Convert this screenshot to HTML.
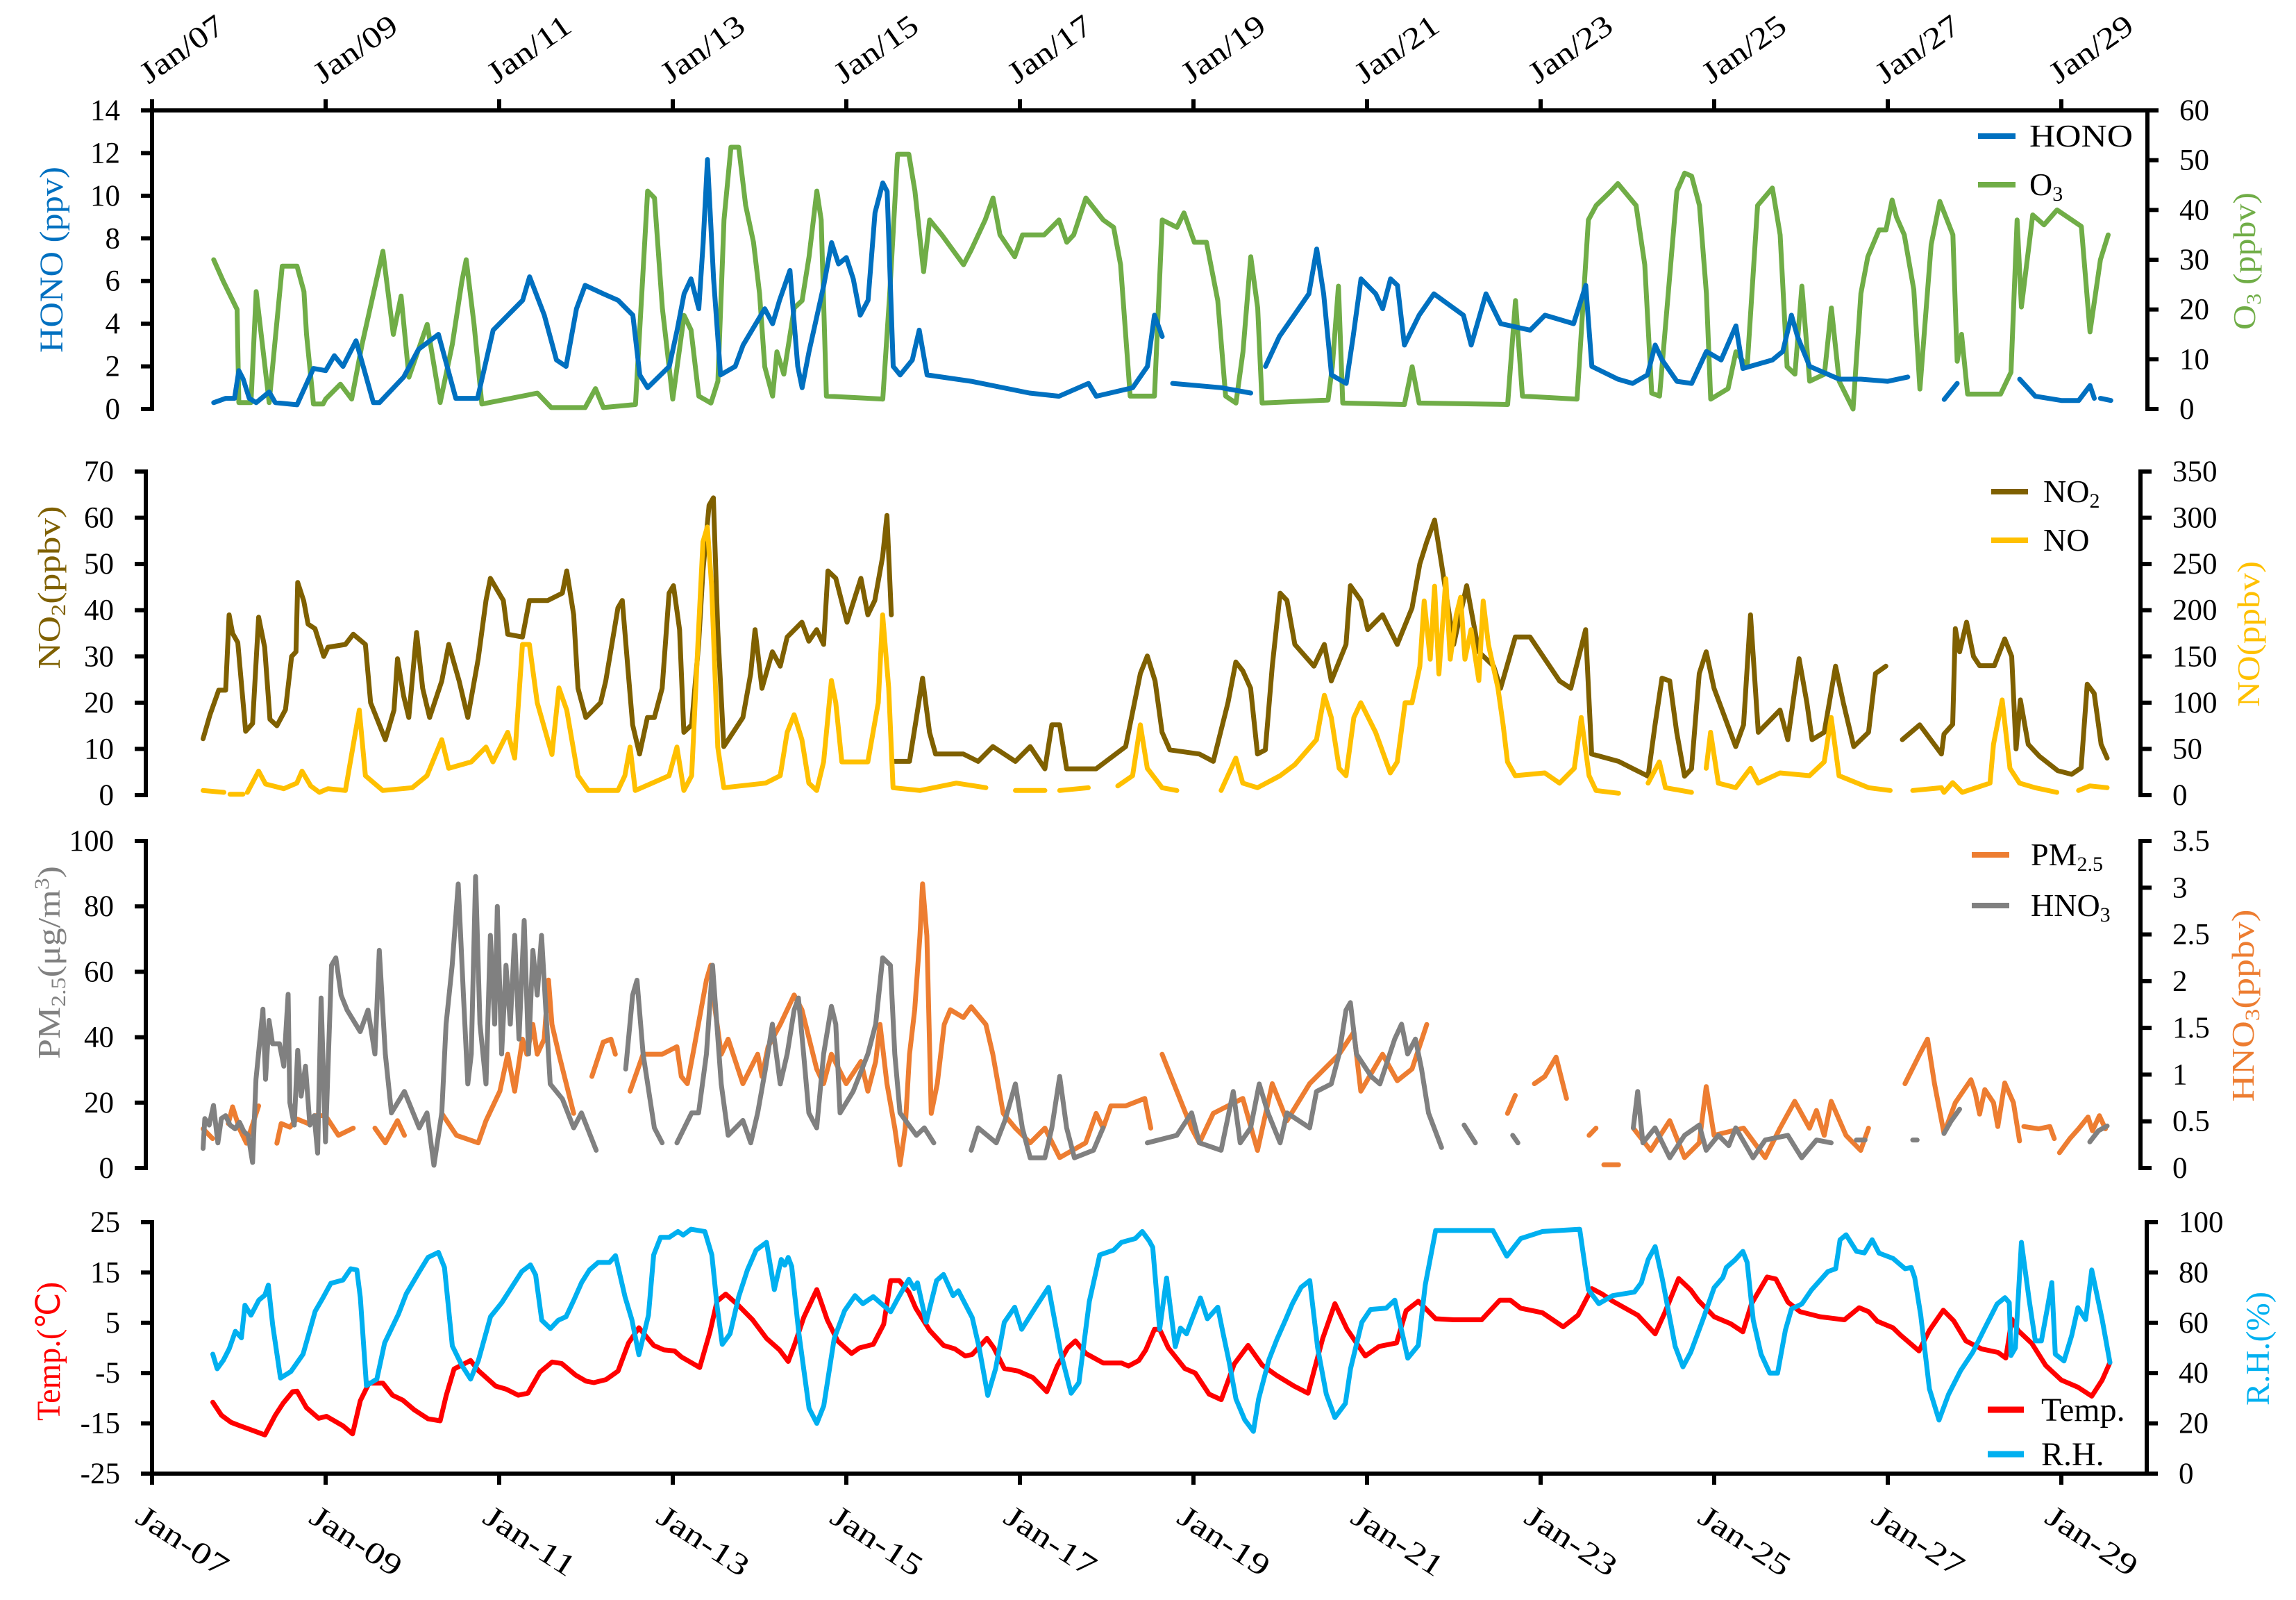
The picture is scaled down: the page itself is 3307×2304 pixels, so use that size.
<!DOCTYPE html>
<html><head><meta charset="utf-8"><title>HONO, O3, NOx, PM2.5, HNO3 and meteorology time series</title>
<style>
html,body{margin:0;padding:0;background:#fff;}
svg{display:block;font-family:"Liberation Serif",serif;}
</style></head>
<body>
<svg id="chart" xmlns="http://www.w3.org/2000/svg" width="3307" height="2304" viewBox="0 0 3307 2304">
<rect x="0" y="0" width="3307" height="2304" fill="#fff"/>
<g id="axes"></g>
<g id="series"></g>
<g id="labels"></g>
</svg>
<script>
// ---------- data (time in days of January, values in axis units) ----------
const dayTicks = [7,9,11,13,15,17,19,21,23,25,27,29];
const honoT = [7.71,7.85,7.95,8.0,8.05,8.12,8.2,8.35,8.42,8.67,8.86,9.0,9.1,9.2,9.35,9.55,9.62,9.9,10.07,10.3,10.5,10.75,10.93,11.1,11.27,11.35,11.52,11.66,11.77,11.89,11.99,12.2,12.37,12.54,12.62,12.71,12.96,13.05,13.13,13.21,13.3,13.35,13.4,13.47,13.55,13.72,13.81,14.06,14.15,14.23,14.35,14.44,14.49,14.57,14.74,14.83,14.91,15.0,15.08,15.16,15.25,15.33,15.42,15.47,15.54,15.62,15.76,15.84,15.93,16.44,17.11,17.45,17.79,17.88,18.3,18.47,18.55,18.64,null,18.76,19.32,19.66,null,19.83,19.99,20.16,20.33,20.42,20.5,20.59,20.76,20.84,20.93,21.1,21.18,21.27,21.35,21.43,21.6,21.77,22.11,22.2,22.37,22.54,22.88,23.05,23.38,23.52,23.59,23.89,24.06,24.23,24.32,24.4,24.57,24.74,24.91,25.08,25.25,25.33,25.67,25.79,25.89,25.96,26.1,26.44,26.69,27.0,27.23,null,27.65,27.8,null,28.52,28.7,29.0,29.2,29.33,29.38,null,29.45,29.57];
const honoV = [.3,.5,.5,1.8,1.4,.5,.3,.8,.3,.2,1.9,1.8,2.5,2.0,3.2,.3,.3,1.5,2.8,3.5,.5,.5,3.7,4.4,5.1,6.2,4.4,2.3,2.0,4.7,5.8,5.4,5.1,4.4,1.6,1.0,2.0,3.7,5.4,6.1,4.7,7.8,11.7,6.1,1.6,2.0,3.0,4.7,4.0,5.1,6.5,2.0,1.0,2.7,5.8,7.8,6.8,7.1,6.1,4.4,5.1,9.2,10.6,10.2,2.0,1.6,2.3,3.7,1.6,1.3,.75,.6,1.2,.6,1.0,2.0,4.4,3.4,null,1.2,1.0,.75,null,2.0,3.4,4.4,5.4,7.5,5.4,1.6,1.2,3.4,6.1,5.4,4.7,6.1,5.8,3.0,4.4,5.4,4.4,3.0,5.4,4.0,3.7,4.4,4.0,5.8,2.0,1.4,1.2,1.6,3.0,2.3,1.3,1.2,2.7,2.3,3.9,1.9,2.3,2.7,4.4,3.4,2.0,1.4,1.4,1.3,1.5,null,.45,1.2,null,1.4,.6,.4,.4,1.1,.5,null,.5,.4];
const o3T = [7.71,7.82,7.98,8.0,8.14,8.2,8.35,8.5,8.67,8.75,8.78,8.86,8.97,9.0,9.17,9.3,9.42,9.66,9.78,9.87,9.96,10.17,10.32,10.46,10.57,10.62,10.71,10.8,11.44,11.6,11.99,12.11,12.2,12.57,12.71,12.79,12.88,13.0,13.13,13.21,13.3,13.44,13.52,13.59,13.67,13.76,13.84,13.93,14.0,14.06,14.15,14.2,14.28,14.4,14.49,14.57,14.66,14.71,14.77,15.42,15.5,15.59,15.72,15.79,15.89,15.96,16.1,16.35,16.44,16.6,16.69,16.77,16.94,17.03,17.28,17.45,17.54,17.62,17.76,17.96,18.08,18.16,18.27,18.55,18.64,18.81,18.89,19.01,19.15,19.28,19.37,19.49,19.57,19.66,19.74,19.79,20.55,20.6,20.67,20.72,21.43,21.52,21.6,22.62,22.71,22.79,23.42,23.55,23.64,23.81,23.89,24.1,24.2,24.28,24.37,24.57,24.66,24.74,24.83,24.91,24.96,25.16,25.25,25.38,25.5,25.67,25.76,25.84,25.93,26.01,26.1,26.27,26.35,26.44,26.6,26.69,26.77,26.9,26.98,27.05,27.1,27.19,27.3,27.37,27.5,27.6,27.75,27.8,27.85,27.92,28.3,28.42,28.49,28.54,28.67,28.8,28.95,29.23,29.33,29.45,29.54];
const o3V = [30,25.7,20,1.3,1.3,23.6,1.3,28.7,28.7,23.6,15,1,1,2,5,2,13,31.7,15,22.7,6.4,17,1.3,13,25.7,30,17,1,3.2,0.3,0.3,4.1,0.3,0.9,43.8,42.4,20.3,2,18.8,15.9,2.6,1.2,5.6,38,52.6,52.6,40.9,33.5,23.2,8.5,2.6,11.5,7,20.3,21.8,30.6,43.8,38,2.6,2,23.2,51.2,51.2,43.8,27.6,38,35,29,32,38,42.4,35,30.6,35,35,38,33.5,35,42.4,38,36.5,29,2.6,2.6,38,36.5,39.4,33.5,33.5,21.8,2.6,1.2,11.5,30.6,20.3,1.2,1.8,8.5,24.7,1.2,0.9,8.5,1.2,0.9,21.8,2.6,2,38,40.9,43.8,45.3,40.9,29,3.2,2.6,43.8,47.4,46.8,40.9,23.2,2,4.1,11.5,8.5,40.9,44.4,35,8.5,7,24.7,5.6,7,20.3,5.6,0,23.2,30.6,36,36,42,38.6,35,24,4,33,41.7,35,9.6,15,3,3,7.4,38,20.5,39,37,40,36.7,15.5,30,35];
const no2T = [7.66,7.74,7.84,7.92,7.96,8.0,8.06,8.15,8.23,8.3,8.37,8.43,8.51,8.61,8.68,8.73,8.75,8.82,8.87,8.95,9.05,9.1,9.3,9.39,9.53,9.59,9.76,9.86,9.9,9.97,10.03,10.12,10.19,10.27,10.41,10.49,10.61,10.71,10.83,10.92,10.97,11.12,11.17,11.34,11.42,11.63,11.8,11.85,11.93,11.98,12.07,12.24,12.3,12.44,12.49,12.56,12.61,12.69,12.78,12.86,12.95,13.03,13.08,13.15,13.2,13.29,13.37,13.42,13.49,13.54,13.59,13.66,13.88,13.97,14.02,14.1,14.22,14.31,14.39,14.56,14.64,14.73,14.81,14.86,14.95,15.08,15.24,15.32,15.4,15.49,15.54,15.59,null,15.61,15.8,15.88,15.95,16.03,16.1,16.42,16.59,16.76,17.02,17.19,17.36,17.44,17.53,17.61,17.95,18.29,18.46,18.54,18.63,18.71,18.8,19.14,19.3,19.47,19.56,19.64,19.73,19.81,19.9,19.98,20.07,20.15,20.24,20.46,20.58,20.66,20.83,20.88,21.0,21.08,21.25,21.42,21.59,21.68,21.76,21.85,21.93,22.02,22.07,22.22,22.36,22.53,22.61,22.78,22.95,23.29,23.42,23.59,23.66,23.97,24.14,24.31,24.39,24.47,24.56,24.64,24.73,24.81,24.9,24.98,25.07,25.32,25.41,25.49,25.58,25.83,25.92,26.05,26.14,26.2,26.34,26.47,26.56,26.68,26.85,26.93,27.05,null,27.24,27.44,27.69,27.72,27.82,27.85,27.9,27.98,28.06,28.13,28.3,28.42,28.5,28.55,28.6,28.69,28.82,29.03,29.19,29.3,29.37,29.45,29.53,29.6];
const no2V = [12.2,17.4,22.7,22.7,39,35,33,13.8,15.5,38.5,32,16.4,15,18.5,30,31,46,42,37,36,30,32,32.6,34.8,32.6,20,12,18.4,29.5,21.5,16.8,35.2,23.1,16.8,24.7,32.6,24.7,16.8,29.5,42.1,46.9,42.1,34.8,34.2,42.1,42.1,43.7,48.5,39,23.1,16.8,20,24.7,40.5,42.1,26.3,15.2,8.9,16.8,16.8,23.1,43.7,45.3,35.8,13.6,15.2,32.6,48.5,62.7,64.3,35.8,10.5,16.8,26.3,35.8,23.1,31,27.9,34.2,37.4,33.3,35.8,32.6,48.5,46.9,37.4,46.9,39,42.1,51.6,60.5,39,null,7.3,7.3,16.8,25.3,13.6,8.9,8.9,7.3,10.5,7.3,10.5,5.7,15.2,15.2,5.7,5.7,10.5,26.3,30.1,24.7,13.6,9.8,8.9,7.3,20,28.8,26.9,23.1,8.9,9.8,27.9,43.7,42.1,32.6,27.9,32.6,24.7,32.6,45.3,42.1,35.8,39,32.6,40.5,50,54.8,59.5,50,39,32.6,45.3,31,27.9,23.1,34.2,34.2,24.7,23.1,35.8,8.9,7.3,5.7,4.1,15.2,25.3,24.7,13.6,4.1,5.7,26.3,31,23.1,10.5,15.2,39,13.6,18.4,12,29.5,20,12,13.6,27.9,20,10.5,13.6,26.3,27.9,null,12,15.2,8.9,13.2,15.3,36,31,37.4,30,28,28,33.8,30,10,20.6,11,8.4,5.3,4.5,5.9,24,22,11,8];
const noT = [7.66,7.9,null,7.97,8.12,null,8.17,8.3,8.38,8.59,8.74,8.8,8.9,9.0,9.1,9.3,9.46,9.53,9.73,10.07,10.24,10.41,10.49,10.75,10.92,11.0,11.17,11.25,11.34,11.42,11.51,11.68,11.76,11.85,11.98,12.1,12.44,12.52,12.58,12.64,13.03,13.12,13.2,13.29,13.37,13.42,13.47,13.52,13.59,13.66,14.14,14.31,14.39,14.47,14.56,14.64,14.73,14.81,14.9,14.95,15.02,15.32,15.44,15.49,15.56,15.61,15.92,16.34,16.68,null,17.02,17.36,null,17.53,17.86,null,18.2,18.37,18.46,18.54,18.71,18.88,null,19.39,19.56,19.64,19.81,20.07,20.24,20.49,20.58,20.66,20.75,20.83,20.92,21.0,21.17,21.34,21.42,21.51,21.59,21.68,21.73,21.8,21.85,21.9,21.98,22.03,22.1,22.15,22.2,22.27,22.36,22.41,22.47,22.58,22.64,22.69,22.78,23.12,23.29,23.46,23.54,23.63,23.71,23.97,null,24.31,24.44,24.51,24.81,null,24.98,25.03,25.12,25.32,25.49,25.58,25.83,26.17,26.34,26.42,26.51,26.85,27.1,null,27.36,27.69,27.72,27.82,27.93,28.25,28.29,28.39,28.48,28.59,28.77,29.02,null,29.27,29.4,29.6];
const noV = [5,3,null,1,1,null,3,26,12,7,13,26,10,3,7,5,92,21,5,8,21,60,29,36,52,36,68,40,163,163,100,44,116,92,21,5,5,21,52,5,21,52,5,21,179,274,290,226,52,8,13,21,68,87,60,13,5,36,124,100,36,36,100,195,116,8,5,13,8,null,5,5,null,5,8,null,10,21,76,29,8,5,null,5,40,13,8,21,33,60,108,84,29,21,84,100,68,24,36,100,100,139,210,147,226,131,234,147,195,214,147,179,124,210,163,116,76,36,21,24,13,29,84,21,5,2,null,13,36,8,3,null,29,68,13,8,29,13,24,21,36,84,21,8,5,null,5,8,3,13.5,3,13,55,103,29,13,8,3,null,5,10,8];
const pmT = [7.66,7.77,null,7.95,8.0,8.08,8.16,8.3,null,8.51,8.56,8.66,8.74,8.87,8.94,9.07,9.22,9.39,null,9.64,9.76,9.9,9.98,null,10.41,10.58,10.83,10.92,11.08,11.17,11.25,11.34,11.39,11.46,11.51,11.59,11.64,11.68,11.76,11.93,null,12.14,12.27,12.36,12.41,null,12.58,12.73,12.95,13.12,13.17,13.24,13.32,13.46,13.51,13.56,13.63,13.71,13.88,14.05,14.1,14.17,14.31,14.47,14.56,14.73,14.81,14.9,15.07,15.24,15.32,15.41,15.46,15.54,15.63,15.69,15.75,15.8,15.86,15.92,15.95,16.0,16.05,16.12,16.2,16.27,16.42,16.51,16.68,16.76,16.88,17.02,17.19,17.36,17.53,17.83,17.95,18.03,18.12,18.29,18.51,18.58,null,18.71,18.88,19.05,19.14,19.3,19.47,19.64,19.81,19.98,20.15,20.41,20.58,20.75,20.92,21.0,21.25,21.42,21.59,21.76,null,22.69,22.78,null,23.0,23.12,23.25,23.37,null,23.63,23.71,null,23.8,23.97,null,24.14,24.34,24.56,24.73,24.9,24.98,25.07,25.41,25.66,25.83,26.0,26.17,26.25,26.34,26.42,26.59,26.76,26.85,null,27.27,27.44,27.53,27.61,27.72,27.85,28.03,28.08,28.13,28.19,28.29,28.34,28.42,28.52,28.59,null,28.64,28.81,28.94,28.99,null,29.05,29.17,29.27,29.38,29.43,29.51,29.58];
const pmV = [12,9,null,13.6,18.7,12,7.6,19,null,7.6,13.6,12.5,15,13.6,16,16,10,12.2,null,12.2,7.7,14.5,10,null,16.7,10,7.7,14.5,23.5,34.8,23.5,39.4,34.8,43.9,34.8,39.4,57.5,43.9,34.8,16.7,null,28,38.5,39.4,34.8,null,23.5,34.8,34.8,37.1,28,25.8,37.1,57.5,62,48.4,34.8,39.4,25.8,34.8,28,37.1,43.9,52.9,48.4,30.3,25.8,34.8,25.8,32.6,23.5,32.6,43.9,25.8,12.2,1,12.2,34.8,48.4,71,86.9,71,16.7,25.8,43.9,48.4,46,49.3,43.9,34.8,16.7,12.2,7.7,12.2,3.2,7.7,16.7,12.2,19,19,21.3,12.2,null,34.8,23.5,12.2,7.7,16.7,19,21.3,5.4,25.8,14.5,25.8,30.3,34.8,41.6,23.5,34.8,26.7,30.3,43.9,null,16.7,22.2,null,25.8,28,33.9,21.3,null,10,12.2,null,1,1,null,12.2,5.4,14.5,3.2,7.7,24.9,10,12.2,3.2,12.2,20.4,12.2,17.6,10,20.4,10,5.4,12.2,null,25.8,34.8,39.4,25.8,10.6,20,27,23,16.5,24,20,12.7,26,20,8.3,null,12.7,12,12.7,9,null,4.7,9,12,15.6,11.4,16,12];
const hno3T = [7.66,7.68,7.73,7.78,7.83,7.87,7.92,7.97,8.03,8.08,8.13,8.18,8.23,8.27,8.35,8.38,8.42,8.46,8.54,8.59,8.64,8.66,8.71,8.75,8.79,8.84,8.89,8.94,8.98,9.02,9.07,9.14,9.19,9.25,9.32,9.47,9.56,9.64,9.69,9.76,9.83,9.98,10.15,10.24,10.32,10.41,10.46,10.53,10.6,10.66,10.71,10.75,10.8,10.85,10.92,10.97,11.02,11.05,11.1,11.15,11.2,11.25,11.3,11.36,11.41,11.46,11.51,11.56,11.61,11.66,11.8,11.93,12.02,12.19,null,12.53,12.61,12.66,12.73,12.86,12.95,null,13.12,13.29,13.37,13.46,13.53,13.58,13.63,13.71,13.88,13.97,14.05,14.14,14.22,14.31,14.39,14.47,14.52,14.58,14.64,14.73,14.81,14.9,14.95,15.0,15.15,15.32,15.41,15.49,15.58,15.63,15.69,15.88,15.97,16.08,null,16.51,16.59,16.8,16.9,17.02,17.1,17.19,17.36,17.44,17.53,17.61,17.7,17.92,18.03,null,18.54,18.88,19.05,19.14,19.39,19.53,19.61,19.73,19.83,19.93,20.07,20.15,20.41,20.49,20.66,20.75,20.83,20.88,20.95,21.12,21.22,21.39,21.47,21.54,21.63,21.7,21.78,21.93,null,22.19,22.32,null,22.75,22.81,null,24.14,24.19,24.25,24.39,24.56,24.73,24.9,24.98,25.12,25.24,25.32,25.52,25.66,25.92,26.08,26.25,26.42,null,26.71,26.81,null,27.36,27.41,null,27.72,27.8,27.9,null,29.4,29.5,29.6];
const hno3V = [.21,.53,.46,.67,.27,.53,.56,.46,.42,.49,.39,.35,.06,.95,1.7,.95,1.58,1.33,1.33,1.09,1.86,.7,.46,1.26,.77,1.09,.46,.56,.16,1.82,.28,2.17,2.25,1.85,1.69,1.46,1.69,1.22,2.33,1.22,.59,.82,.43,.59,.03,.59,1.54,2.17,3.04,1.85,.9,1.22,3.12,1.54,.9,2.49,1.54,2.8,1.22,2.17,1.54,2.49,1.38,2.65,1.22,2.33,1.85,2.49,1.69,.9,.74,.43,.59,.19,null,1.06,1.85,2.01,1.22,.43,.27,null,.27,.59,.59,1.22,2.17,1.54,.9,.35,.51,.27,.59,1.06,1.54,.9,1.22,1.69,1.82,1.22,.59,.43,1.22,1.73,1.54,.59,.82,1.22,1.54,2.25,2.17,1.22,.59,.35,.43,.27,null,.19,.43,.27,.51,.9,.43,.11,.11,.43,.98,.43,.11,.19,.43,null,.27,.35,.59,.27,.19,.82,.27,.43,.9,.59,.27,.59,.43,.82,.9,1.22,1.69,1.77,1.22,.98,.9,1.38,1.54,1.22,1.38,1.06,.59,.22,null,.46,.27,null,.35,.27,null,.43,.82,.27,.43,.11,.35,.46,.19,.35,.24,.43,.11,.3,.35,.11,.3,.27,null,.3,.3,null,.3,.3,null,.37,.5,.63,null,.28,.4,.45];
const tempT = [7.70,7.80,7.91,8.0,8.19,8.30,8.42,8.51,8.62,8.67,8.78,8.92,9.01,9.20,9.31,9.40,9.50,9.66,9.77,9.89,10.02,10.18,10.32,10.39,10.48,10.67,10.76,10.96,11.08,11.22,11.33,11.47,11.61,11.72,11.88,12.0,12.09,12.23,12.37,12.49,12.61,12.78,12.9,13.02,13.1,13.31,13.43,13.51,13.61,13.76,13.92,14.08,14.23,14.33,14.41,14.51,14.66,14.78,14.9,15.06,15.15,15.31,15.43,15.51,15.61,15.72,15.8,15.96,16.12,16.25,16.37,16.45,16.62,16.7,16.82,16.98,17.15,17.31,17.43,17.55,17.64,17.76,17.96,18.17,18.25,18.37,18.45,18.55,18.61,18.71,18.9,19.02,19.18,19.32,19.47,19.63,19.79,19.96,20.16,20.32,20.49,20.63,20.77,20.98,21.14,21.34,21.45,21.59,21.79,22.0,22.32,22.53,22.65,22.77,23.02,23.26,23.43,23.59,23.71,23.83,24.12,24.32,24.43,24.59,24.73,24.82,25.0,25.19,25.33,25.43,25.61,25.71,25.85,25.99,26.22,26.36,26.5,26.67,26.78,26.88,27.06,27.15,27.36,27.48,27.64,27.76,27.9,28.08,28.27,28.36,28.43,28.5,28.66,28.82,29.0,29.19,29.35,29.47,29.56];
const tempV = [-10.8,-13.4,-14.8,-15.4,-16.6,-17.3,-13.4,-11,-8.7,-8.6,-11.9,-14,-13.6,-15.5,-17.1,-10.5,-7,-7,-9.4,-10.4,-12.3,-14.1,-14.5,-9.4,-4.2,-2.5,-4.5,-7.6,-8.2,-9.4,-9,-4.8,-2.8,-3.1,-5.4,-6.6,-6.9,-6.3,-4.6,1,4,0.5,-0.4,-0.6,-1.8,-3.9,3.3,9.3,10.7,8.4,5.6,1.9,-0.4,-2.7,1,6.1,11.6,5.6,1.4,-1.1,0,0.7,4.7,13.4,13.4,11.1,7.9,3.5,0.5,-0.2,-1.6,-1.3,1.9,0,-4.1,-4.6,-5.9,-8.7,-3.6,0,1.4,-1.1,-3,-3,-3.6,-2.5,-0.4,3.7,3.7,0,-4.1,-5,-9.2,-10.3,-3.2,0.5,-3.4,-5.5,-7.6,-9,1.9,8.8,3.7,-1.6,0.3,1,7.4,9.3,5.8,5.6,5.6,9.5,9.5,7.9,7,4.2,6.5,11.8,10.7,9.3,6.5,2.8,7,13.8,11.5,9.4,6.2,4.8,3.2,8.8,14.1,13.7,9.1,7.2,6.2,5.9,5.6,8,7.2,5.3,4,2.5,-0.6,3.5,7.5,5.4,1.4,-0.2,-0.9,-2,5.7,3.5,0.9,-3.5,-6.4,-7.8,-9.6,-6.4,-2.9];
const rhT = [7.70,7.75,7.82,7.89,7.96,8.03,8.07,8.14,8.23,8.30,8.34,8.39,8.48,8.60,8.74,8.88,8.97,9.06,9.20,9.29,9.36,9.40,9.47,9.59,9.68,9.84,9.93,10.07,10.18,10.30,10.37,10.46,10.57,10.67,10.76,10.90,11.03,11.26,11.36,11.42,11.49,11.59,11.68,11.77,11.86,11.95,12.04,12.14,12.27,12.34,12.45,12.53,12.61,12.72,12.78,12.86,12.96,13.06,13.12,13.21,13.37,13.45,13.51,13.57,13.66,13.76,13.86,13.96,14.08,14.17,14.25,14.29,14.33,14.37,14.45,14.57,14.66,14.74,14.86,14.98,15.1,15.19,15.31,15.51,15.59,15.72,15.78,15.82,15.92,16.04,16.12,16.23,16.29,16.45,16.53,16.63,16.72,16.82,16.94,17.02,17.19,17.33,17.47,17.59,17.68,17.8,17.92,18.08,18.17,18.33,18.41,18.49,18.53,18.61,18.69,18.79,18.85,18.92,18.98,19.08,19.16,19.28,19.34,19.41,19.49,19.59,19.69,19.75,19.87,19.96,20.06,20.14,20.24,20.34,20.43,20.53,20.63,20.75,20.81,20.94,21.04,21.22,21.32,21.47,21.59,21.67,21.79,22.45,22.61,22.77,23.02,23.45,23.55,23.67,23.83,24.08,24.16,24.24,24.32,24.4,24.55,24.64,24.73,24.87,25.0,25.1,25.14,25.24,25.33,25.38,25.45,25.54,25.64,25.73,25.82,25.89,26.01,26.12,26.31,26.4,26.45,26.52,26.64,26.73,26.82,26.9,27.06,27.2,27.27,27.31,27.38,27.48,27.59,27.7,27.84,27.98,28.12,28.26,28.35,28.4,28.42,28.47,28.54,28.63,28.7,28.77,28.84,28.89,28.93,29.03,29.12,29.19,29.28,29.35,29.47,29.56];
const rhV = [47.5,41.7,45,49.7,56.6,54,67,63,69,71,75,59,38,40.6,47.5,64.6,70,75.7,77,81.5,81,70,35,37.6,52,63.5,71.6,79.8,86,88,82,50.8,43,37.6,45,62.4,68,80.4,83,79,61,57.7,61,62.4,69,76,81,84,84,86.7,70.4,61.1,47.3,63,87,94,94,96.3,94.9,97.2,96.3,87,66.7,51.4,55.6,70.4,81,88.9,92,73.2,85.2,82.9,86,82.4,56.5,26,20,27,53.7,64.8,70.8,67.6,70.4,64.4,69.5,77.3,73.6,75.9,60.2,76.8,79.2,70.8,72.7,62.1,50.1,31.1,41.7,60.2,66.2,57.4,66.7,74.1,48.2,32,36.2,68.5,87,88.9,92,93.5,96.3,92.6,90,57.4,77.8,50.5,57.9,55.6,61.1,69.9,61.6,66.2,56,44.5,29.7,21.4,16.8,29.7,45.4,53.3,61.1,67.6,74.1,76.8,50.1,31.6,22.3,27.9,41.7,60.2,65.3,65.8,69,45.9,51,75,96.7,96.7,86.5,93.5,96.3,97.2,73.2,67.6,70.8,72.2,75.9,85.2,90.3,77.8,50.6,42.5,48.3,61.3,74,78,82,85,88.4,84,61,47.5,40,40,57,65.5,67.5,73,80.4,81.5,93,95,88.4,87.8,93,87.7,85.6,81.5,82,78,63,33.7,21.3,31.5,41,48.3,58,67.5,70,68,47,50,92,68.8,52.8,52.8,66,76,47.5,44.8,55,66,61.3,81,61.3,44.2];
const hono_ticks = [0,2,4,6,8,10,12,14];
const o3_ticks = [0,10,20,30,40,50,60];
const no2_ticks = [0,10,20,30,40,50,60,70];
const no_ticks = [0,50,100,150,200,250,300,350];
const pm_ticks = [0,20,40,60,80,100];
const hno3_ticks = ["0","0.5","1","1.5","2","2.5","3","3.5"];
const temp_ticks = [-25,-15,-5,5,15,25];
const rh_ticks = [0,20,40,60,80,100];

// ---------- layout ----------
const NS = "http://www.w3.org/2000/svg";
const DAY = 125;
const P = [
  {left:219, right:3093, top:159, bottom:589},
  {left:210, right:3083, top:679, bottom:1145},
  {left:210, right:3083, top:1211, bottom:1682},
  {left:219, right:3092, top:1760, bottom:2122}
];
const axesG = document.getElementById('axes');
const seriesG = document.getElementById('series');
const labelsG = document.getElementById('labels');
function mk(tag, attrs, parent){ const e=document.createElementNS(NS,tag); for(const k in attrs) e.setAttribute(k,attrs[k]); parent.appendChild(e); return e; }
function xOf(p,d){ return p.left + (d-7)*DAY; }
function yOf(p,v,min,max){ return p.bottom - (v-min)/(max-min)*(p.bottom-p.top); }

function drawSeries(p, ts, vs, min, max, color, name){
  let d=""; let pen=false;
  const n=Math.min(ts.length, vs.length);
  for(let i=0;i<n;i++){
    if(ts[i]===null || vs[i]===null){ pen=false; continue; }
    const x=xOf(p,ts[i]).toFixed(1), y=yOf(p,vs[i],min,max).toFixed(1);
    d += (pen? "L":"M") + x + " " + y + " ";
    pen=true;
  }
  const path=mk('path',{d:d,fill:'none',stroke:color,'stroke-width':7,'stroke-linejoin':'round','stroke-linecap':'round'},seriesG);
  
  
}

function drawYAxis(p, side, ticks, min, max, name){
  const x = side==='left'? p.left : p.right;
  const ln = mk('line',{x1:x,y1:p.top-3,x2:x,y2:p.bottom+3,stroke:'#000','stroke-width':6},axesG);
  
  
  ticks.forEach(t=>{
    const v=parseFloat(t);
    const y=yOf(p,v,min,max);
    const tx = side==='left'? x-16 : x+16;
    const tk = mk('line',{x1:x,y1:y,x2:tx,y2:y,stroke:'#000','stroke-width':6},axesG);
    
    
    const lx = side==='left'? x-46 : x+46;
    const lb = mk('text',{x:lx,y:y+14,'font-size':43,'text-anchor':side==='left'?'end':'start',fill:'#000'},labelsG);
    lb.textContent = String(t);
    
    
  });
}

drawYAxis(P[0],'left',hono_ticks,0,14,'hono-axis');
drawYAxis(P[0],'right',o3_ticks,0,60,'o3-axis');
drawYAxis(P[1],'left',no2_ticks,0,70,'no2-axis');
drawYAxis(P[1],'right',no_ticks,0,350,'no-axis');
drawYAxis(P[2],'left',pm_ticks,0,100,'pm25-axis');
drawYAxis(P[2],'right',hno3_ticks,0,3.5,'hno3-axis');
drawYAxis(P[3],'left',temp_ticks,-25,25,'temp-axis');
drawYAxis(P[3],'right',rh_ticks,0,100,'rh-axis');

const topLine = mk('line',{x1:203,y1:P[0].top,x2:3108,y2:P[0].top,stroke:'#000','stroke-width':6},axesG);


const botLine = mk('line',{x1:203,y1:P[3].bottom,x2:3108,y2:P[3].bottom,stroke:'#000','stroke-width':6},axesG);


dayTicks.forEach(dd=>{
  const lab = (dd<10?'0':'')+dd;
  const xt = xOf(P[0],dd);
  const t1 = mk('line',{x1:xt,y1:P[0].top,x2:xt,y2:P[0].top-16,stroke:'#000','stroke-width':6},axesG);
  
  
  const l1 = mk('text',{x:0,y:0,'font-size':44,fill:'#000',textLength:137,lengthAdjust:'spacingAndGlyphs',transform:`translate(${xt-5},122) rotate(-35)`},labelsG);
  l1.textContent = 'Jan/'+lab;
  
  
  const xb = xOf(P[3],dd);
  const t2 = mk('line',{x1:xb,y1:P[3].bottom,x2:xb,y2:P[3].bottom+16,stroke:'#000','stroke-width':6},axesG);
  
  
  const l2 = mk('text',{x:0,y:0,'font-size':44,fill:'#000',textLength:148,lengthAdjust:'spacingAndGlyphs',transform:`translate(${xb-26},2191) rotate(33)`},labelsG);
  l2.textContent = 'Jan-'+lab;
  
  
});

drawSeries(P[0], o3T, o3V, 0, 60, '#70AD47', 'o3-line');
drawSeries(P[0], honoT, honoV, 0, 14, '#0070C0', 'hono-line');
drawSeries(P[1], no2T, no2V, 0, 70, '#7F6000', 'no2-line');
drawSeries(P[1], noT, noV, 0, 350, '#FFC000', 'no-line');
drawSeries(P[2], pmT, pmV, 0, 100, '#ED7D31', 'pm25-line');
drawSeries(P[2], hno3T, hno3V, 0, 3.5, '#808080', 'hno3-line');
drawSeries(P[3], tempT, tempV, -25, 25, '#FF0000', 'temp-line');
drawSeries(P[3], rhT, rhV, 0, 100, '#00B0F0', 'rh-line');
</script>

<svg style="position:absolute;left:0;top:0" width="3307" height="2304" viewBox="0 0 3307 2304">
<g font-family="Liberation Serif, serif">
  <text transform="translate(90,374) rotate(-90)" text-anchor="middle" font-size="48" fill="#0070C0" textLength="268" lengthAdjust="spacingAndGlyphs">HONO (ppv)</text>
  <text transform="translate(86,846) rotate(-90)" text-anchor="middle" font-size="46" fill="#7F6000" textLength="235" lengthAdjust="spacingAndGlyphs">NO<tspan font-size="30" dy="8">2</tspan><tspan dy="-8">(ppbv)</tspan></text>
  <text transform="translate(86,1386) rotate(-90)" text-anchor="middle" font-size="46" fill="#808080" textLength="278" lengthAdjust="spacingAndGlyphs">PM<tspan font-size="30" dy="8">2.5</tspan><tspan dy="-8">(μg/m</tspan><tspan font-size="30" dy="-16">3</tspan><tspan dy="16">)</tspan></text>
  <text transform="translate(86,1946) rotate(-90)" text-anchor="middle" font-size="48" fill="#FF0000" textLength="200" lengthAdjust="spacingAndGlyphs">Temp.(℃)</text>
  <text transform="translate(3248,376) rotate(-90)" text-anchor="middle" font-size="46" fill="#70AD47" textLength="198" lengthAdjust="spacingAndGlyphs">O<tspan font-size="30" dy="8">3</tspan><tspan dy="-8"> (ppbv)</tspan></text>
  <text transform="translate(3254,913) rotate(-90)" text-anchor="middle" font-size="46" fill="#FFC000" textLength="210" lengthAdjust="spacingAndGlyphs">NO(ppbv)</text>
  <text transform="translate(3246,1448) rotate(-90)" text-anchor="middle" font-size="46" fill="#ED7D31" textLength="277" lengthAdjust="spacingAndGlyphs">HNO<tspan font-size="30" dy="8">3</tspan><tspan dy="-8">(ppbv)</tspan></text>
  <text transform="translate(3268,1942) rotate(-90)" text-anchor="middle" font-size="48" fill="#00B0F0" textLength="164" lengthAdjust="spacingAndGlyphs">R.H.(%)</text>

  <g>
    <line x1="2849" y1="196" x2="2903" y2="196" stroke="#0070C0" stroke-width="8"/>
    <text x="2923" y="211" font-size="46" fill="#000" textLength="149" lengthAdjust="spacingAndGlyphs">HONO</text>
    <line x1="2849" y1="266" x2="2903" y2="266" stroke="#70AD47" stroke-width="8"/>
    <text x="2923" y="281" font-size="46" fill="#000">O<tspan font-size="30" dy="8">3</tspan></text>
  </g>
  <g>
    <line x1="2868" y1="708" x2="2921" y2="708" stroke="#7F6000" stroke-width="8"/>
    <text x="2943" y="723" font-size="46" fill="#000">NO<tspan font-size="30" dy="8">2</tspan></text>
    <line x1="2868" y1="778" x2="2921" y2="778" stroke="#FFC000" stroke-width="8"/>
    <text x="2943" y="793" font-size="46" fill="#000">NO</text>
  </g>
  <g>
    <line x1="2840" y1="1231" x2="2894" y2="1231" stroke="#ED7D31" stroke-width="8"/>
    <text x="2925" y="1246" font-size="46" fill="#000">PM<tspan font-size="30" dy="8">2.5</tspan></text>
    <line x1="2840" y1="1304" x2="2894" y2="1304" stroke="#808080" stroke-width="8"/>
    <text x="2925" y="1319" font-size="46" fill="#000">HNO<tspan font-size="30" dy="8">3</tspan></text>
  </g>
  <g>
    <line x1="2863" y1="2030" x2="2915" y2="2030" stroke="#FF0000" stroke-width="9"/>
    <text x="2940" y="2046" font-size="48" fill="#000">Temp.</text>
    <line x1="2863" y1="2094" x2="2915" y2="2094" stroke="#00B0F0" stroke-width="9"/>
    <text x="2940" y="2110" font-size="48" fill="#000">R.H.</text>
  </g>
</g>
</svg>
</body></html>
